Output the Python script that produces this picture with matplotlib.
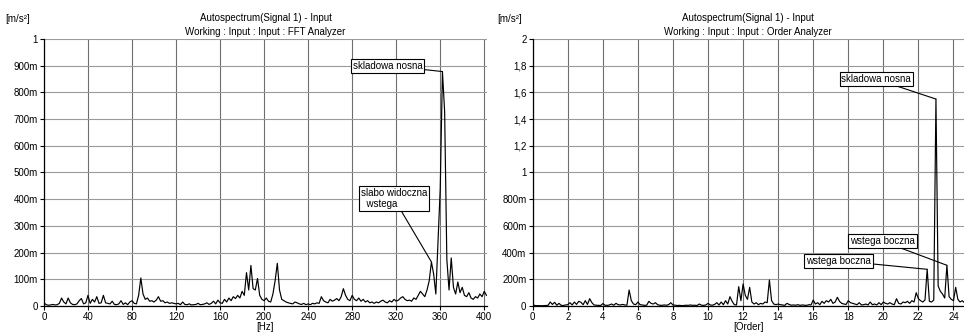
import matplotlib
matplotlib.use('Agg')
import matplotlib.pyplot as plt
import numpy as np

plt.rcParams['font.family'] = ['Liberation Sans', 'DejaVu Sans']

# left: FFT analyzer, 2 Hz lines, values in m/s^2 * 1000
fft_hz = np.arange(0, 404, 2)
fft_mag = [
    12, 5, 3, 4, 6, 4, 5, 10, 30, 15,
    8, 30, 12, 6, 5, 8, 20, 28, 8, 12,
    40, 10, 25, 15, 35, 10, 12, 40, 12, 10,
    8, 18, 6, 5, 8, 20, 6, 12, 5, 15,
    20, 10, 8, 40, 105, 45, 25, 30, 18, 20,
    15, 22, 35, 18, 20, 12, 15, 10, 12, 10,
    8, 10, 5, 15, 6, 5, 8, 4, 5, 6,
    10, 5, 6, 8, 12, 6, 10, 18, 8, 22,
    12, 10, 25, 15, 30, 20, 35, 28, 40, 30,
    55, 40, 125, 60, 152, 65, 60, 103, 40, 25,
    20, 30, 18, 15, 45, 95, 160, 60, 25, 20,
    15, 12, 10, 8, 15, 12, 8, 6, 10, 5,
    8, 5, 10, 8, 12, 10, 35, 20, 15, 12,
    25, 18, 22, 28, 20, 35, 65, 40, 25, 20,
    40, 25, 20, 30, 18, 25, 15, 20, 12, 15,
    10, 15, 12, 18, 22, 15, 12, 20, 15, 25,
    18, 22, 30, 35, 25, 20, 22, 18, 30, 25,
    40, 55, 45, 35, 60, 95, 165, 120, 45, 240,
    440, 878, 728, 175, 60, 180, 70, 45, 90, 50,
    70, 40, 35, 50, 30, 25, 35, 30, 45, 35,
    55, 40,
]
fft_ticks = [0, 40, 80, 120, 160, 200, 240, 280, 320, 360, 400]
fft_yticks = [0, 0.1, 0.2, 0.3, 0.4, 0.5, 0.6, 0.7, 0.8, 0.9, 1.0]
fft_ylabels = ['0', '100m', '200m', '300m', '400m', '500m', '600m', '700m', '800m', '900m', '1']

# right: order analyzer, 1/8 order lines, values in m/s^2 * 1000
ord_x = np.arange(0, 24.7, 0.125)
ord_mag = [
    10, 4, 3, 3, 2, 3, 4, 5,
    30, 12, 28, 6, 20, 5, 4, 8,
    10, 25, 8, 30, 12, 35, 28, 10,
    40, 12, 55, 25, 8, 6, 5, 4,
    18, 6, 5, 8, 15, 6, 20, 10,
    8, 12, 8, 6, 120, 40, 15, 10,
    30, 10, 8, 5, 6, 35, 20, 15,
    25, 10, 6, 5, 8, 6, 10, 25,
    8, 6, 4, 5, 3, 4, 6, 5,
    8, 5, 6, 4, 15, 6, 5, 8,
    20, 8, 6, 12, 25, 8, 30, 10,
    40, 15, 70, 35, 10, 8, 145, 40,
    165, 80, 50, 140, 30, 15, 25, 10,
    20, 15, 30, 25, 195, 40, 15, 10,
    15, 10, 8, 5, 20, 12, 6, 8,
    6, 10, 5, 8, 6, 5, 10, 8,
    45, 15, 25, 10, 35, 20, 40, 30,
    50, 20, 30, 65, 35, 20, 15, 12,
    40, 25, 20, 15, 10, 25, 8, 10,
    15, 8, 30, 10, 15, 8, 25, 10,
    30, 20, 15, 25, 15, 10, 55, 20,
    15, 30, 25, 35, 20, 40, 30, 100,
    55, 40, 30, 45, 275, 35, 30, 45,
    1550, 150, 110, 90, 60, 305, 70, 50,
    40, 140, 50, 30, 40, 25,
]
ord_ticks = [0, 2, 4, 6, 8, 10, 12, 14, 16, 18, 20, 22, 24]
ord_yticks = [0, 0.2, 0.4, 0.6, 0.8, 1.0, 1.2, 1.4, 1.6, 1.8, 2.0]
ord_ylabels = ['0', '200m', '400m', '600m', '800m', '1', '1,2', '1,4', '1,6', '1,8', '2']

fft_mag = np.array(fft_mag) / 1000.0
ord_mag = np.array(ord_mag[:len(ord_x)]) / 1000.0

fig = plt.figure(figsize=(9.64, 3.33), dpi=100)
ax1 = fig.add_axes([0.0456, 0.081, 0.4596, 0.802])
ax2 = fig.add_axes([0.5526, 0.081, 0.4474, 0.802])

box = dict(boxstyle='square,pad=0.2', fc='white', ec='black', lw=0.8)
arr = dict(arrowstyle='-', color='black', lw=0.8, shrinkA=0, shrinkB=0)


def style(ax, xt, yt, yl, xlim, ylim, xlabel, subtitle):
    ax.set_xlim(*xlim)
    ax.set_ylim(*ylim)
    ax.set_xticks(xt)
    ax.set_yticks(yt)
    ax.set_yticklabels(yl)
    ax.tick_params(labelsize=7, length=3, width=0.8, pad=1.5, colors='black')
    ax.grid(True, axis='x', color='#6e6e6e', lw=0.8)
    ax.grid(True, axis='y', color='#9a9a9a', lw=0.8)
    ax.set_axisbelow(True)
    ax.spines['top'].set_visible(False)
    ax.spines['right'].set_visible(False)
    ax.spines['left'].set_linewidth(0.9)
    ax.spines['bottom'].set_linewidth(0.9)
    ax.set_xlabel(xlabel, fontsize=7, labelpad=0)
    ax.set_title('Autospectrum(Signal 1) - Input\n' + subtitle,
                 fontsize=7, pad=3, linespacing=1.5)


ax1.plot(fft_hz, fft_mag, color='black', lw=0.85)
style(ax1, fft_ticks, fft_yticks, fft_ylabels, (0, 402.5), (0, 1.0), '[Hz]',
      'Working : Input : Input : FFT Analyzer')
i = int(np.argmax(fft_mag))
ax1.annotate('skladowa nosna', xy=(fft_hz[i], fft_mag[i]), xytext=(312, 0.9),
             fontsize=7, ha='center', va='center', bbox=box, arrowprops=arr)
j = int(np.argmax(np.where(fft_hz < 356, fft_mag, 0)))
ax1.annotate('slabo widoczna\n  wstega', xy=(fft_hz[j], fft_mag[j]), xytext=(318, 0.402),
             fontsize=7, ha='center', va='center', ma='left', bbox=box, arrowprops=arr)

ax2.plot(ord_x, ord_mag, color='black', lw=0.85)
style(ax2, ord_ticks, ord_yticks, ord_ylabels, (0, 24.6), (0, 2.0), '[Order]',
      'Working : Input : Input : Order Analyzer')
k = int(np.argmax(ord_mag))
ax2.annotate('skladowa nosna', xy=(ord_x[k], ord_mag[k]), xytext=(19.6, 1.698),
             fontsize=7, ha='center', va='center', bbox=box, arrowprops=arr)
ax2.annotate('wstega boczna', xy=(ord_x[k + 5], ord_mag[k + 5]), xytext=(19.96, 0.485),
             fontsize=7, ha='center', va='center', bbox=box, arrowprops=arr)
ax2.annotate('wstega boczna', xy=(ord_x[k - 4], ord_mag[k - 4]), xytext=(17.45, 0.34),
             fontsize=7, ha='center', va='center', bbox=box, arrowprops=arr)

fig.text(5 / 964, 1 - 19 / 333, '[m/s²]', fontsize=7, va='center', ha='left')
fig.text(497 / 964, 1 - 19 / 333, '[m/s²]', fontsize=7, va='center', ha='left')

fig.savefig('out.png', dpi=100)
